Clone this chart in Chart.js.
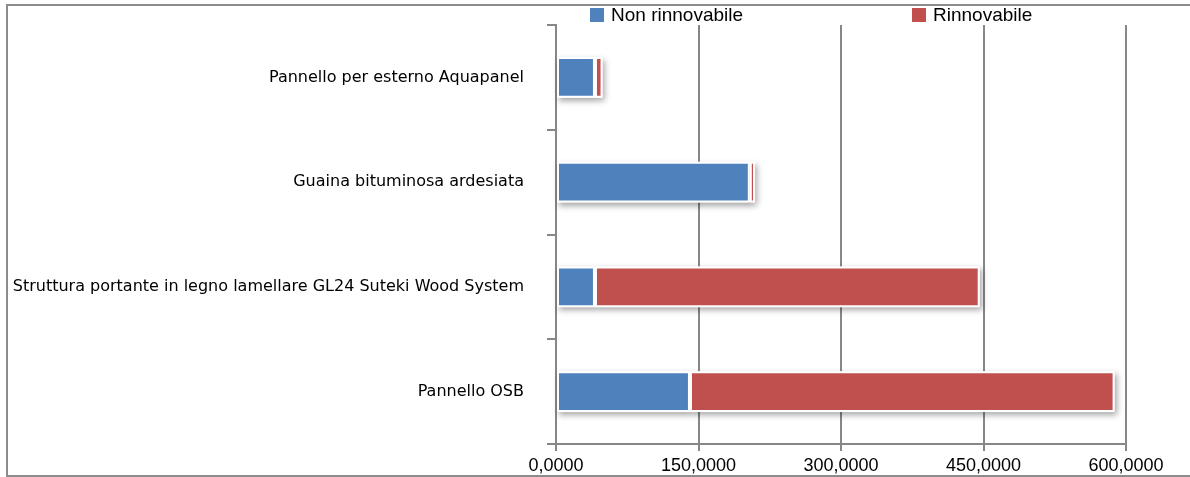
<!DOCTYPE html>
<html>
<head>
<meta charset="utf-8">
<script src="https://cdn.jsdelivr.net/npm/chart.js@4"></script>
<style>
  body { margin: 0; background: #fff; }
  #wrap { position: relative; width: 1190px; height: 477px; overflow: hidden; }
  #frame { position: absolute; left: 6px; top: 4px; width: 1200px; height: 473px; box-sizing: border-box; border: 2px solid #8c8c8c; }
  #myChart { position: absolute; left: 0; top: 0; }
</style>
</head>
<body>
<div id="wrap">
  <div id="frame"></div>
  <canvas id="myChart" width="1190" height="477"></canvas>
</div>
<script>
var categories = [
    "Pannello per esterno Aquapanel",
    "Guaina bituminosa ardesiata",
    "Struttura portante in legno lamellare GL24 Suteki Wood System",
    "Pannello OSB"
];
var nonRinnovabile = [41, 204, 41, 141];
var rinnovabile = [8, 5.5, 405, 447];
var seriesNames = ["Non rinnovabile", "Rinnovabile"];
var seriesColors = ["#4f81bd", "#c0504d"];
var xTicksMax = 600;
var xTicksStep = 150;

var gridGray = '#878787';

// soft shadow under each bar segment, drawn before the bars themselves
var barShadow = {
    id: 'barShadow',
    beforeDatasetsDraw: function (chart) {
        var ctx = chart.ctx;
        ctx.save();
        ctx.shadowColor = 'rgba(0,0,0,0.35)';
        ctx.shadowBlur = 6;
        ctx.shadowOffsetX = 2;
        ctx.shadowOffsetY = 3;
        ctx.fillStyle = '#fff';
        chart.data.datasets.forEach(function (ds, i) {
            chart.getDatasetMeta(i).data.forEach(function (bar) {
                var p = bar.getProps(['x', 'y', 'base', 'height'], true);
                var left = Math.min(p.base, p.x);
                ctx.fillRect(left, p.y - p.height / 2, Math.abs(p.x - p.base), p.height);
            });
        });
        ctx.restore();
    }
};

// legend spread over the top band like the original
var topLegend = {
    id: 'topLegend',
    afterDraw: function (chart) {
        var ctx = chart.ctx;
        var offsets = [34, 356];
        ctx.save();
        ctx.font = '19px "Liberation Sans", sans-serif';
        ctx.textBaseline = 'middle';
        chart.data.datasets.forEach(function (ds, i) {
            var x = chart.chartArea.left + offsets[i];
            ctx.fillStyle = ds.backgroundColor;
            ctx.fillRect(x, 8, 14, 14);
            ctx.fillStyle = '#000';
            ctx.fillText(ds.label, x + 21, 16);
        });
        ctx.restore();
    }
};

var ctx = document.getElementById("myChart").getContext('2d');
var myChart = new Chart(ctx, {
    type: 'bar',
    data: {
        labels: categories,
        datasets: [{
            label: seriesNames[0],
            data: nonRinnovabile,
            backgroundColor: seriesColors[0],
            borderColor: '#fff',
            borderWidth: 2,
            borderSkipped: false
        }, {
            label: seriesNames[1],
            data: rinnovabile,
            backgroundColor: seriesColors[1],
            borderColor: '#fff',
            borderWidth: 2,
            borderSkipped: false
        }]
    },
    options: {
        indexAxis: 'y',
        responsive: false,
        animation: false,
        layout: { autoPadding: false, padding: { left: 6, right: 64, top: 25, bottom: 0 } },
        datasets: { bar: { categoryPercentage: 1, barPercentage: 0.39 } },
        plugins: {
            legend: { display: false },
            tooltip: { enabled: false }
        },
        scales: {
            x: {
                stacked: true,
                min: 0,
                max: xTicksMax,
                ticks: {
                    stepSize: xTicksStep,
                    color: '#000',
                    padding: 4,
                    font: { family: '"Liberation Sans", sans-serif', size: 18 },
                    callback: function (v) { return v.toFixed(4).replace('.', ','); }
                },
                grid: { color: gridGray, lineWidth: 2, tickLength: 7 },
                border: { color: gridGray, width: 2 },
                afterFit: function (scale) { scale.height = 33; scale.paddingLeft = 0; scale.paddingRight = 0; }
            },
            y: {
                stacked: true,
                ticks: {
                    color: '#000',
                    padding: 23,
                    font: { family: '"DejaVu Sans", sans-serif', size: 16 }
                },
                grid: { drawOnChartArea: false, color: gridGray, lineWidth: 2, tickLength: 9 },
                border: { color: gridGray, width: 2 },
                afterFit: function (scale) { scale.width = 550; scale.paddingTop = 0; scale.paddingBottom = 0; }
            }
        }
    },
    plugins: [barShadow, topLegend]
});
</script>
</body>
</html>
